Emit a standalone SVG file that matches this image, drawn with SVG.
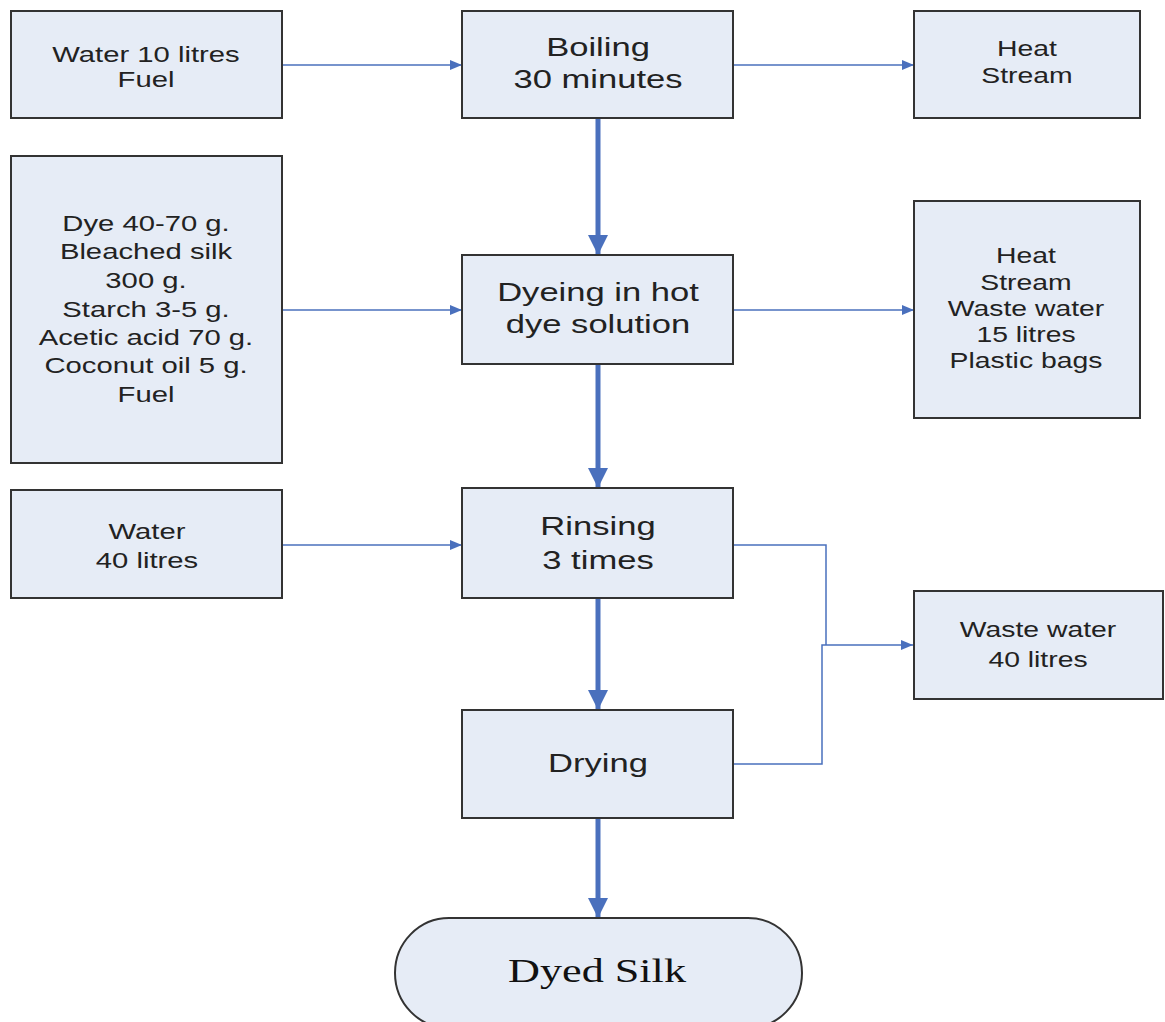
<svg xmlns="http://www.w3.org/2000/svg" width="1165" height="1022" viewBox="0 0 1165 1022">
  <style>
    .box { fill: #e6ecf6; stroke: #333333; stroke-width: 2; }
    .t { font-family: "Liberation Sans", Arial, sans-serif; fill: #222222; text-anchor: middle; }
    .s { font-size: 22.5px; }
    .p { font-size: 26px; }
    .serif { font-family: "Liberation Serif", "Times New Roman", serif; font-size: 34px; fill: #111111; text-anchor: middle; }
    .thin { stroke: #4a70bd; stroke-width: 1.5; fill: none; }
    .thick { stroke: #4a70bd; stroke-width: 5; fill: none; }
  </style>
  <defs>
    <marker id="headThin" viewBox="0 0 12 10" refX="12" refY="5" markerWidth="12" markerHeight="10" markerUnits="userSpaceOnUse" orient="auto">
      <path d="M0,0 L12,5 L0,10 Z" fill="#4a70bd"/>
    </marker>
    <marker id="headThick" viewBox="0 0 22 20" refX="22" refY="11" markerWidth="20" markerHeight="22" markerUnits="userSpaceOnUse" orient="auto">
      <path d="M0,0 L22,11 L0,22 Z" fill="#4a70bd"/>
    </marker>
  </defs>
  <rect width="1165" height="1022" fill="#ffffff"/>

  <!-- connectors -->
  <g id="connectors">
    <line class="thin" x1="282" y1="65" x2="462" y2="65" marker-end="url(#headThin)"/>
    <line class="thin" x1="733" y1="65" x2="914" y2="65" marker-end="url(#headThin)"/>
    <line class="thin" x1="282" y1="310" x2="462" y2="310" marker-end="url(#headThin)"/>
    <line class="thin" x1="733" y1="310" x2="914" y2="310" marker-end="url(#headThin)"/>
    <line class="thin" x1="282" y1="545" x2="462" y2="545" marker-end="url(#headThin)"/>
    <polyline class="thin" points="733,545 826,545 826,645"/>
    <polyline class="thin" points="733,764 822,764 822,645 913,645" marker-end="url(#headThin)"/>
    <line class="thick" x1="598" y1="119" x2="598" y2="255" marker-end="url(#headThick)"/>
    <line class="thick" x1="598" y1="364" x2="598" y2="488" marker-end="url(#headThick)"/>
    <line class="thick" x1="598" y1="599" x2="598" y2="710" marker-end="url(#headThick)"/>
    <line class="thick" x1="598" y1="819" x2="598" y2="918" marker-end="url(#headThick)"/>
  </g>

  <!-- inputs -->
  <g id="in-water10">
    <rect class="box" x="11" y="11" width="271" height="107"/>
    <text class="t s" transform="translate(146,62) scale(1.3,1)">Water 10 litres</text>
    <text class="t s" transform="translate(146,87) scale(1.3,1)">Fuel</text>
  </g>
  <g id="in-dye">
    <rect class="box" x="11" y="156" width="271" height="307"/>
    <text class="t s" transform="translate(146,231) scale(1.3,1)">Dye 40-70 g.</text>
    <text class="t s" transform="translate(146,259) scale(1.3,1)">Bleached silk</text>
    <text class="t s" transform="translate(146,288) scale(1.3,1)">300 g.</text>
    <text class="t s" transform="translate(146,317) scale(1.3,1)">Starch 3-5 g.</text>
    <text class="t s" transform="translate(146,345) scale(1.3,1)">Acetic acid 70 g.</text>
    <text class="t s" transform="translate(146,373) scale(1.3,1)">Coconut oil 5 g.</text>
    <text class="t s" transform="translate(146,402) scale(1.3,1)">Fuel</text>
  </g>
  <g id="in-water40">
    <rect class="box" x="11" y="490" width="271" height="108"/>
    <text class="t s" transform="translate(147,539) scale(1.3,1)">Water</text>
    <text class="t s" transform="translate(147,568) scale(1.3,1)">40 litres</text>
  </g>

  <!-- process steps -->
  <g id="step-boiling">
    <rect class="box" x="462" y="11" width="271" height="107"/>
    <text class="t p" transform="translate(598,56) scale(1.33,1)">Boiling</text>
    <text class="t p" transform="translate(598,88) scale(1.33,1)">30 minutes</text>
  </g>
  <g id="step-dyeing">
    <rect class="box" x="462" y="255" width="271" height="109"/>
    <text class="t p" transform="translate(598,301) scale(1.33,1)">Dyeing in hot</text>
    <text class="t p" transform="translate(598,333) scale(1.33,1)">dye solution</text>
  </g>
  <g id="step-rinsing">
    <rect class="box" x="462" y="488" width="271" height="110"/>
    <text class="t p" transform="translate(598,535) scale(1.33,1)">Rinsing</text>
    <text class="t p" transform="translate(598,569) scale(1.33,1)">3 times</text>
  </g>
  <g id="step-drying">
    <rect class="box" x="462" y="710" width="271" height="108"/>
    <text class="t p" transform="translate(598,772) scale(1.33,1)">Drying</text>
  </g>

  <!-- outputs -->
  <g id="out-heat">
    <rect class="box" x="914" y="11" width="226" height="107"/>
    <text class="t s" transform="translate(1027,56) scale(1.26,1)">Heat</text>
    <text class="t s" transform="translate(1027,83) scale(1.26,1)">Stream</text>
  </g>
  <g id="out-dyeing">
    <rect class="box" x="914" y="201" width="226" height="217"/>
    <text class="t s" transform="translate(1026,263) scale(1.26,1)">Heat</text>
    <text class="t s" transform="translate(1026,290) scale(1.26,1)">Stream</text>
    <text class="t s" transform="translate(1026,316) scale(1.26,1)">Waste water</text>
    <text class="t s" transform="translate(1026,342) scale(1.26,1)">15 litres</text>
    <text class="t s" transform="translate(1026,368) scale(1.26,1)">Plastic bags</text>
  </g>
  <g id="out-waste">
    <rect class="box" x="914" y="591" width="249" height="108"/>
    <text class="t s" transform="translate(1038,637) scale(1.26,1)">Waste water</text>
    <text class="t s" transform="translate(1038,667) scale(1.26,1)">40 litres</text>
  </g>

  <!-- end product -->
  <g id="end-dyed-silk">
    <rect class="box" x="395" y="918" width="407" height="110" rx="54" ry="55"/>
    <text class="serif" transform="translate(597,982) scale(1.3,1)">Dyed Silk</text>
  </g>
</svg>
